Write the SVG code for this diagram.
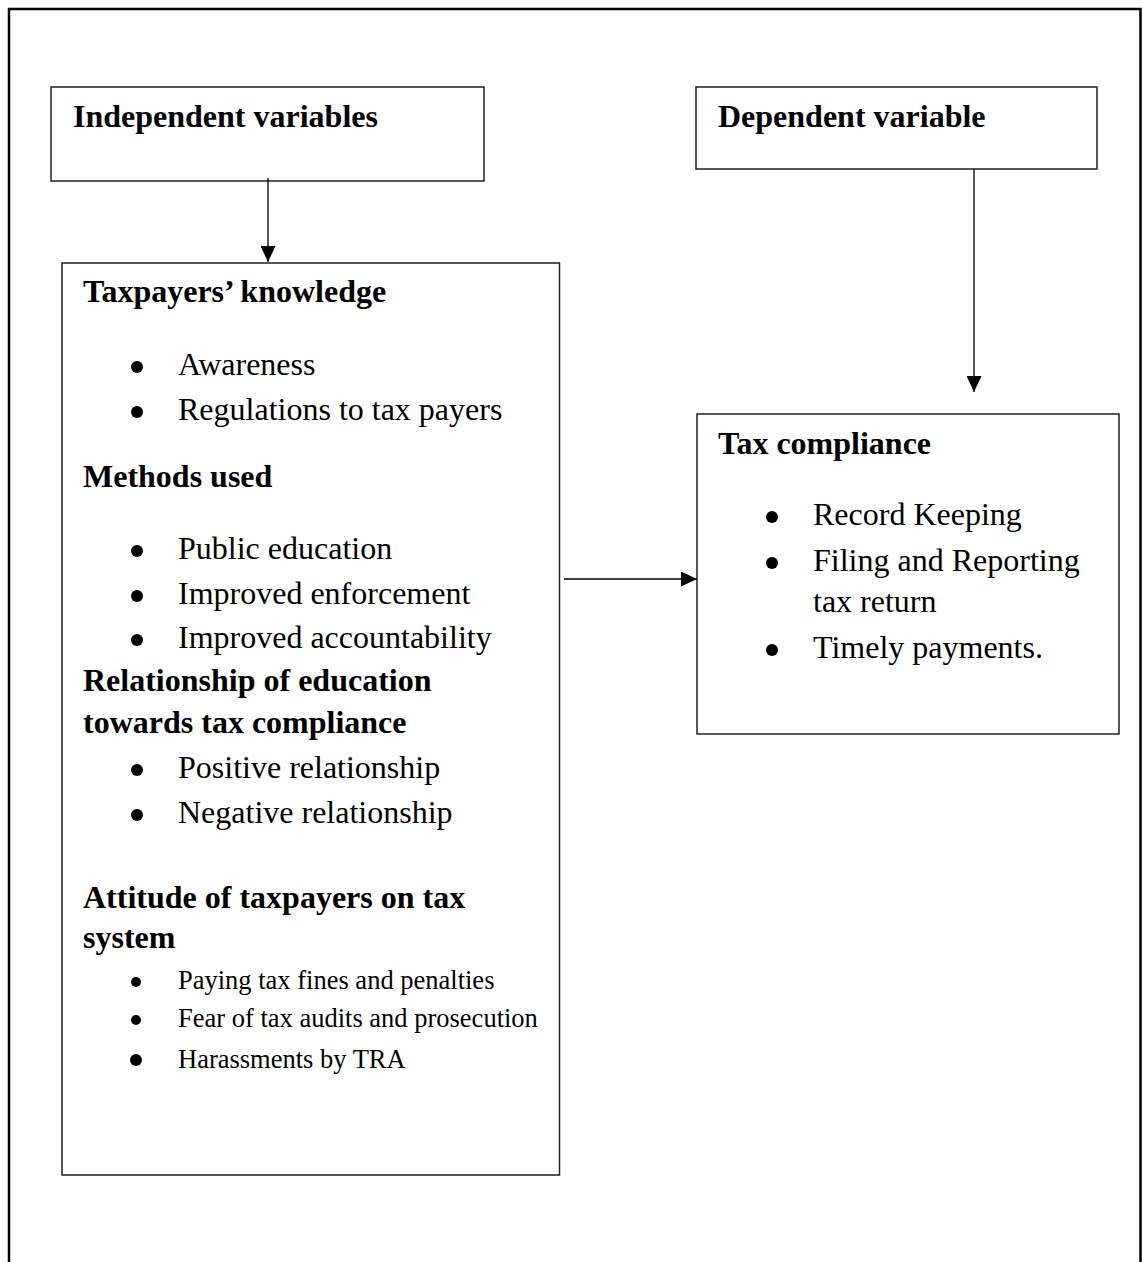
<svg xmlns="http://www.w3.org/2000/svg" width="1143" height="1262" viewBox="0 0 1143 1262">
<style>
.frame{fill:none;stroke:#000;stroke-width:2.5}
.box{fill:#fff;stroke:#222;stroke-width:1.5}
.h{font-family:"Liberation Serif","Times New Roman",serif;font-weight:bold;font-size:32px;fill:#000}
.t{font-family:"Liberation Serif","Times New Roman",serif;font-size:32px;fill:#000}
.s{font-family:"Liberation Serif","Times New Roman",serif;font-size:26.5px;fill:#000}
.b{fill:#000}
.line{stroke:#000;stroke-width:1.3;fill:none}
</style>
<defs>
<marker id="arr" viewBox="0 0 16 15" refX="16" refY="7.5" markerWidth="16" markerHeight="15" markerUnits="userSpaceOnUse" orient="auto">
<path d="M0,0 L16,7.5 L0,15 Z" fill="#000"/>
</marker>
</defs>
<path class="frame" d="M9,1262 V9 H1140.5 V1262"/>
<g id="independent">
<rect class="box" x="51" y="87" width="433" height="94"/>
<text class="h" x="73" y="127">Independent variables</text>
</g>
<g id="dependent">
<rect class="box" x="696" y="87" width="401" height="82"/>
<text class="h" x="718" y="127">Dependent variable</text>
</g>
<g id="factors">
<rect class="box" x="62" y="263" width="497.5" height="912"/>
<text class="h" x="83" y="302">Taxpayers’ knowledge</text>
<circle class="b" cx="137" cy="367" r="6"/>
<text class="t" x="178" y="375">Awareness</text>
<circle class="b" cx="137" cy="412" r="6"/>
<text class="t" x="178" y="420">Regulations to tax payers</text>
<text class="h" x="83" y="487">Methods used</text>
<circle class="b" cx="137" cy="551" r="6"/>
<text class="t" x="178" y="559">Public education</text>
<circle class="b" cx="137" cy="596" r="6"/>
<text class="t" x="178" y="604">Improved enforcement</text>
<circle class="b" cx="137" cy="640" r="6"/>
<text class="t" x="178" y="648">Improved accountability</text>
<text class="h" x="83" y="691">Relationship of education</text>
<text class="h" x="83" y="733">towards tax compliance</text>
<circle class="b" cx="137" cy="770" r="6"/>
<text class="t" x="178" y="778">Positive relationship</text>
<circle class="b" cx="137" cy="815" r="6"/>
<text class="t" x="178" y="823">Negative relationship</text>
<text class="h" x="83" y="908">Attitude of taxpayers on tax</text>
<text class="h" x="83" y="948">system</text>
<circle class="b" cx="136" cy="982" r="5"/>
<text class="s" x="178" y="989">Paying tax fines and penalties</text>
<circle class="b" cx="136" cy="1020" r="5"/>
<text class="s" x="178" y="1027">Fear of tax audits and prosecution</text>
<circle class="b" cx="136" cy="1060" r="6"/>
<text class="s" x="178" y="1068">Harassments by TRA</text>
</g>
<g id="compliance">
<rect class="box" x="697" y="414" width="422" height="320"/>
<text class="h" x="718" y="454">Tax compliance</text>
<circle class="b" cx="772" cy="517" r="6"/>
<text class="t" x="813" y="525">Record Keeping</text>
<circle class="b" cx="772" cy="563" r="6"/>
<text class="t" x="813" y="571">Filing and Reporting</text>
<text class="t" x="813" y="612">tax return</text>
<circle class="b" cx="772" cy="650" r="6"/>
<text class="t" x="813" y="658">Timely payments.</text>
</g>
<g id="connectors">
<line class="line" x1="268" y1="178" x2="268" y2="262" marker-end="url(#arr)"/>
<line class="line" x1="974" y1="169" x2="974" y2="392" marker-end="url(#arr)"/>
<line class="line" x1="564" y1="579" x2="697" y2="579" marker-end="url(#arr)"/>
</g>
</svg>
